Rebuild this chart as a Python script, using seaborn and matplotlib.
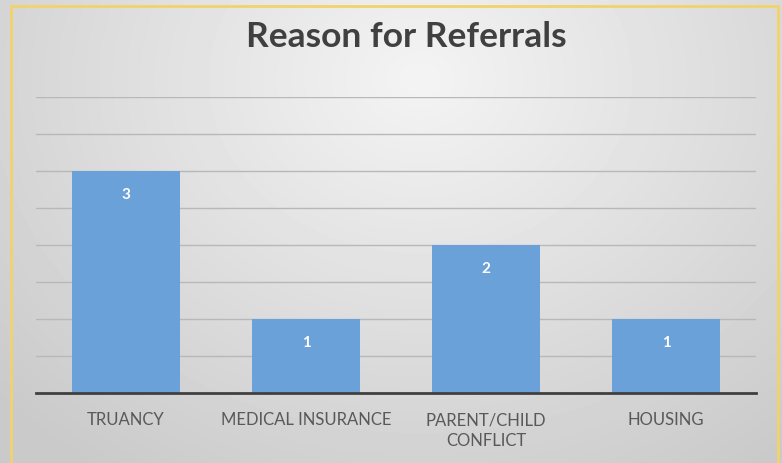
import numpy as np
import pandas as pd
import seaborn as sns
import matplotlib.pyplot as plt
from matplotlib.patches import Rectangle

categories = ["TRUANCY", "MEDICAL INSURANCE", "PARENT/CHILD\nCONFLICT", "HOUSING"]
counts = [3, 1, 2, 1]

df = pd.DataFrame({"reason": categories, "count": counts})

sns.set_style("white")
plt.rcParams['font.family'] = ['Lato', 'DejaVu Sans']

fig = plt.figure(figsize=(7.82, 4.64), dpi=100)

# background gradient, lighter toward the top middle
bg = fig.add_axes([0, 0, 1, 1], zorder=-10)
yy, xx = np.mgrid[0:464, 0:782]
d = np.sqrt(((xx - 420) / 560.0) ** 2 + ((yy - 80) / 460.0) ** 2)
shade = np.clip(0.955 - 0.16 * d, 0.79, 0.96)
bg.imshow(shade, cmap="gray", vmin=0, vmax=1, aspect="auto", extent=[0, 1, 0, 1])
bg.set_axis_off()
bg.add_patch(Rectangle((11 / 782, -0.01), 767 / 782, (457 + 5) / 464,
                       transform=bg.transAxes, fill=False, edgecolor="#f2d36b", lw=2))

ax = fig.add_axes([36 / 782, 70 / 464, 720 / 782, 296 / 464])
ax.patch.set_alpha(0)
sns.barplot(data=df, x="reason", y="count", color="#6aa1d8", saturation=1,
            width=0.605, linewidth=0, ax=ax, zorder=3)

ax.set_ylim(0, 4)
ax.set_xlim(-0.5, 3.5)
ax.set_yticks(np.arange(0.5, 4.01, 0.5))
ax.yaxis.grid(True, color="#b8b8b8", lw=1)
ax.set_yticklabels([])
ax.tick_params(axis="y", length=0)
ax.tick_params(axis="x", length=0, labelsize=12, labelcolor="#595959", pad=13)
for lbl in ax.get_xticklabels():
    lbl.set_linespacing(1.35)
for s in ["top", "right", "left"]:
    ax.spines[s].set_visible(False)
ax.spines["bottom"].set_color("#404040")
ax.spines["bottom"].set_linewidth(2)
ax.spines["bottom"].set_zorder(5)
ax.set_xlabel("")
ax.set_ylabel("")

for i, v in enumerate(counts):
    ax.text(i, v - 0.31, str(v), ha="center", va="center", color="white",
            fontsize=11, fontweight="bold", zorder=6)

fig.text(406 / 782, 1 - 37 / 464, "Reason for Referrals", ha="center", va="center",
         fontsize=25.5, fontweight="bold", color="#404040")

fig.savefig("out.png", dpi=100)
